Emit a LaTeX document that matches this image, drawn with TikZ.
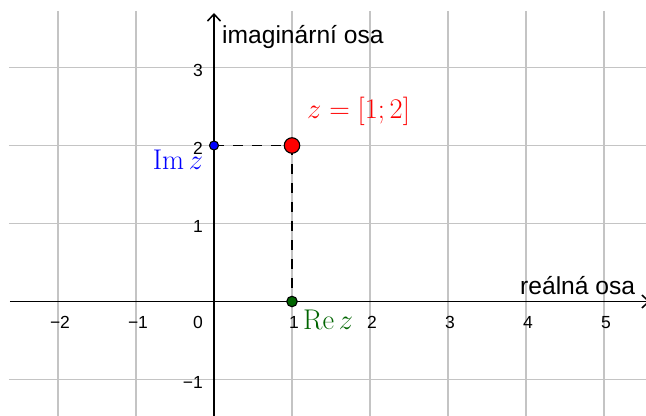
\RequirePackage{fix-cm}
\documentclass[tikz,border=0pt]{standalone}
\usepackage{fontspec}
\newfontfamily\labfont{Liberation Sans}
\usetikzlibrary{arrows.meta}
\definecolor{gridc}{RGB}{196,196,196}
\definecolor{ggreen}{RGB}{0,100,0}
\definecolor{pblue}{RGB}{0,0,255}
\definecolor{pred}{RGB}{255,0,0}
\begin{document}
\begin{tikzpicture}[x=78pt,y=78pt,
  gridline/.style={gridc, line width=1.4pt},
  axisline/.style={black, line width=1.5pt, -{Straight Barb[length=7pt,width=13pt,line width=1.5pt]}},
  ticklab/.style={inner sep=0pt, font=\labfont\fontsize{17.5}{17.5}\selectfont},
  axislab/.style={inner sep=0pt, anchor=base west, font=\labfont\fontsize{24.6}{24.6}\selectfont},
  mathlab/.style={inner sep=0pt, anchor=base west, font=\fontsize{28.5}{30}\selectfont},
  dashline/.style={black, line width=1.8pt, dash pattern=on 10pt off 9pt},
  pt/.style={circle, draw=black, line width=1.1pt, inner sep=0pt}]
\clip (-2.7436,-1.4679) rectangle (5.5385,3.8654);
% grid
\foreach \y in {-1,1,2,3} \draw[gridline] (-2.6282,\y) -- (5.5385,\y);
\foreach \x in {-2,-1,1,2,3,4,5} \draw[gridline] (\x,3.7244) -- (\x,-1.4679);
% axes
\coordinate (xl) at (-2.6154,0);
\coordinate (xr) at (5.5897,0);
\coordinate (yb) at (0,-1.4679);
\coordinate (yt) at (0,3.6987);
\draw[axisline] (xl) -- (xr);
\draw[axisline] (yb) -- (yt);
% tick labels
\foreach \x/\t in {-2/−2,-1/−1,1/1,2/2,3/3,4/4,5/5}
  \node[ticklab] (tx\x) at ({\x+2/78},-0.269) {\t};
\node[ticklab] (tx0) at (-0.2051,-0.269) {0};
\foreach \y/\t in {-1/−1,1/1,2/2,3/3}
  \node[ticklab, anchor=east] (ty\y) at (-0.141,{\y-2.5/78}) {\t};
% axis labels
\node[axislab] (imlab) at (0.1026,3.3013) {imaginární osa};
\node[axislab] (relab) at (3.9231,0.0833) {reálná osa};
% points
\coordinate (Ic) at (0,2);
\coordinate (Zc) at (1,2);
\coordinate (Rc) at (1,0);
\draw[dashline] (Ic) -- (Zc);
\draw[dashline] (Zc) -- (Rc);
\node[pt, fill=pblue, minimum size=9pt] (I) at (Ic) {};
\node[pt, fill=ggreen, minimum size=10.5pt] (R) at (Rc) {};
\node[pt, fill=pred, minimum size=15.5pt] (Z) at (Zc) {};
% math labels
\node[mathlab, text=pred] (zlab) at (1.1923,2.3462) {$z=[1;2]$};
\node[mathlab, text=pblue] (imz) at (-0.7859,1.6859) {$\mathrm{Im}\,z$};
\node[mathlab, text=ggreen] (rez) at (1.141,-0.3654) {$\mathrm{Re}\,z$};
\end{tikzpicture}
\end{document}
